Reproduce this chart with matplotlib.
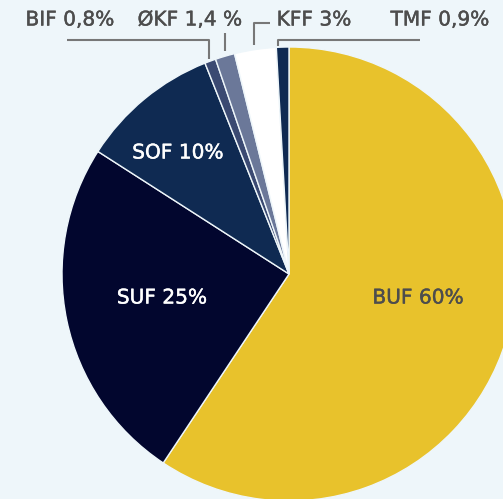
import matplotlib.pyplot as plt
import matplotlib.patheffects as pe

# slice data, clockwise from 12 o'clock
names = ["BUF", "SUF", "SOF", "BIF", "ØKF", "KFF", "TMF"]
shares = [60, 25, 10, 0.8, 1.4, 3, 0.9]
labels = ["BUF 60%", "SUF 25%", "SOF 10%", "BIF 0,8%", "ØKF 1,4 %", "KFF 3%", "TMF 0,9%"]
colors = ["#e8c22c", "#02062e", "#0f2a52", "#3b4a72", "#6b7899", "#ffffff", "#0f2a52"]

BG = "#eef6fa"
GREY = "#4d4d4d"
LINE = "#777777"
W, H = 503, 499


def label(ax, x, y, s, color):
    ax.text(x, H - y, s, color=color, family="DejaVu Sans", fontsize=14.5,
            ha="center", va="center",
            path_effects=[pe.withStroke(linewidth=0.3, foreground=color)])


def main():
    fig = plt.figure(figsize=(W / 100, H / 100), dpi=100, facecolor=BG)
    ax = fig.add_axes([0, 0, 1, 1])
    ax.set_facecolor(BG)

    cx, cy, r = 289, H - 274, 227
    ax.pie(
        shares, colors=colors, startangle=90, counterclock=False,
        center=(cx, cy), radius=r, frame=True,
        wedgeprops=dict(edgecolor=BG, linewidth=1.0),
    )
    ax.set_xlim(0, W)
    ax.set_ylim(0, H)
    ax.set_aspect("auto")
    ax.axis("off")

    # labels inside the pie
    label(ax, 418, 298, labels[0], GREY)
    label(ax, 162, 298, labels[1], "white")
    label(ax, 178, 153, labels[2], "white")

    # labels on top
    label(ax, 70, 20, labels[3], GREY)
    label(ax, 190, 20, labels[4], GREY)
    label(ax, 314, 20, labels[5], GREY)
    label(ax, 440, 20, labels[6], GREY)

    lk = dict(color=LINE, linewidth=1.5, solid_capstyle="butt")
    # BIF leader
    ax.plot([67, 209, 209], [H - 40, H - 40, H - 59], **lk)
    # ØKF leader
    ax.plot([225, 225], [H - 33, H - 51], **lk)
    # KFF leader
    ax.plot([270, 254, 254], [H - 23, H - 23, H - 45], **lk)
    # TMF leader
    ax.plot([420, 278, 278], [H - 40, H - 40, H - 46], **lk)

    fig.savefig("out.png", dpi=100, facecolor=BG)


if __name__ == "__main__":
    main()
